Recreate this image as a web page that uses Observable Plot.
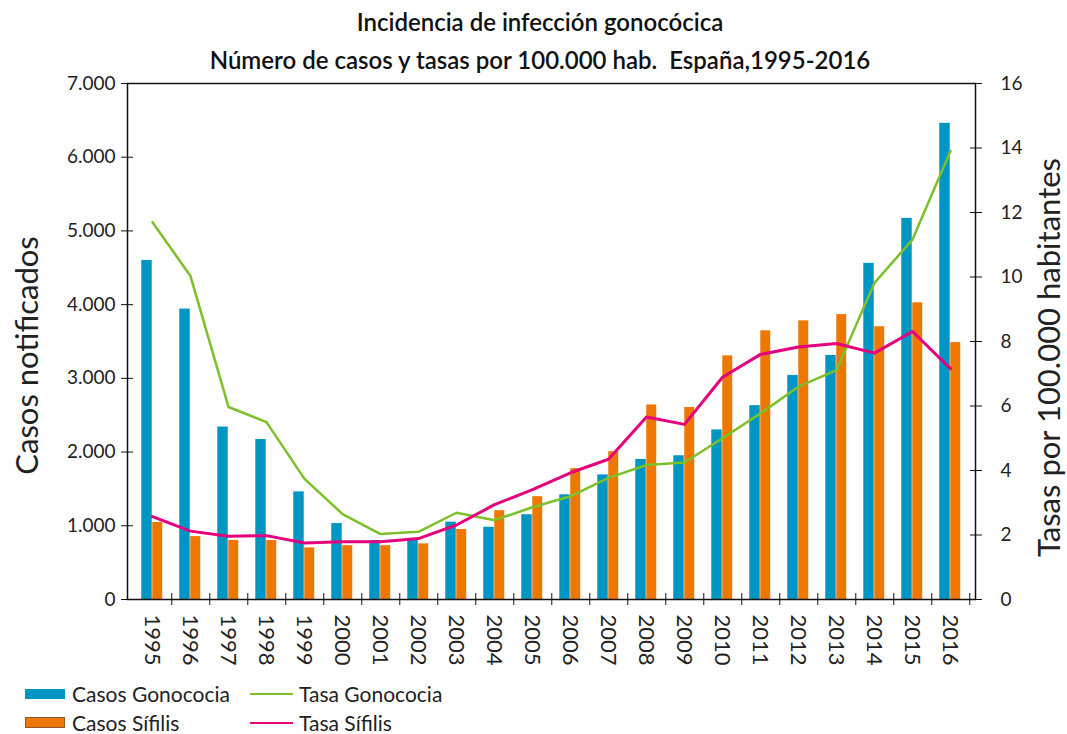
<!DOCTYPE html>
<html>
<head>
<meta charset="utf-8">
<script src="https://cdn.jsdelivr.net/npm/d3@7"></script>
<script src="https://cdn.jsdelivr.net/npm/@observablehq/plot@0.6"></script>
<style>
  html, body { margin: 0; padding: 0; background: #fff; }
  #wrap { position: relative; width: 1067px; height: 734px; font-family: Lato, "Open Sans", sans-serif; color: #222; }
  #title { position: absolute; left: 0; top: 3px; width: 1080px; text-align: center; font-size: 24px; font-weight: 600; line-height: 38px; color: #111; z-index: 2; }
  #chart { position: absolute; left: 0; top: 63px; z-index: 1; }
  .leg { position: absolute; font-size: 21px; color: #222; display: flex; align-items: center; }
  .sw { display: inline-block; width: 40px; height: 10px; margin-right: 7px; }
  .ln { display: inline-block; width: 43px; height: 2px; margin-right: 6px; }
</style>
</head>
<body>
<div id="wrap">
  <div id="title">Incidencia de infección gonocócica<br>Número de casos y tasas por 100.000 hab.&nbsp; España,1995-2016</div>
  <div id="chart"></div>
  <div class="leg" style="left:25px;top:681px;"><span class="sw" style="background:#0096C4;"></span>Casos Gonococia</div>
  <div class="leg" style="left:25px;top:710px;"><span class="sw" style="background:#EE7700;border:1px solid #8a5a2a;width:38px;height:9px;"></span>Casos Sífilis</div>
  <div class="leg" style="left:250px;top:681px;"><span class="ln" style="background:#7CC02A;"></span>Tasa Gonococia</div>
  <div class="leg" style="left:250px;top:710px;"><span class="ln" style="background:#E5007E;"></span>Tasa Sífilis</div>
</div>
<script>
const years = d3.range(1995, 2017);
const casosGonococia = [4600, 3940, 2340, 2170, 1460, 1030, 800, 810, 1050, 980, 1150, 1420, 1690, 1900, 1950, 2300, 2630, 3040, 3310, 4560, 5170, 6460];
const casosSifilis = [1045, 853, 800, 800, 700, 730, 730, 755, 950, 1205, 1395, 1775, 2005, 2640, 2605, 3305, 3645, 3780, 3865, 3700, 4025, 3485];
const tasaGonococia = [11.7, 10.03, 5.97, 5.5, 3.74, 2.65, 2.03, 2.1, 2.69, 2.46, 2.86, 3.2, 3.77, 4.17, 4.25, 5.0, 5.77, 6.6, 7.11, 9.82, 11.16, 13.91];
const tasaSifilis = [2.57, 2.12, 1.96, 1.98, 1.75, 1.79, 1.79, 1.89, 2.31, 2.94, 3.41, 3.93, 4.35, 5.66, 5.43, 6.89, 7.6, 7.83, 7.94, 7.64, 8.31, 7.16];
const leftTicks = [0, 1000, 2000, 3000, 4000, 5000, 6000, 7000];
const rightTicks = [0, 2, 4, 6, 8, 10, 12, 14, 16];

const casosMax = 7000, tasaMax = 16;
const toLeft = v => v * casosMax / tasaMax;
const es = d3.formatLocale({decimal: ",", thousands: ".", grouping: [3], currency: ["", " €"]});
const fmt = es.format(",");

const rows = years.map((y, i) => ({
  year: String(y),
  gono: casosGonococia[i],
  sif: casosSifilis[i],
  tg: toLeft(tasaGonococia[i]),
  ts: toLeft(tasaSifilis[i])
}));

const W = 1067, mL = 127, mR = 92;
const bw = (W - mL - mR) / years.length;

const chart = Plot.plot({
  width: W,
  height: 617,
  marginTop: 20,
  marginBottom: 81,
  marginLeft: mL,
  marginRight: mR,
  style: {fontFamily: "Lato, 'Open Sans', sans-serif", color: "#222", background: "transparent", overflow: "visible"},
  x: {type: "band", domain: years.map(String), padding: 0, axis: null},
  y: {domain: [0, casosMax], axis: null},
  marks: [
    Plot.barY(rows, {x: "year", y: "gono", fill: "#0096C4", insetLeft: bw / 2 - 11, insetRight: bw / 2}),
    Plot.barY(rows, {x: "year", y: "sif", fill: "#EE7700", insetLeft: bw / 2, insetRight: bw / 2 - 10.5}),
    Plot.line(rows, {x: "year", y: "tg", stroke: "#7CC02A", strokeWidth: 2.5}),
    Plot.line(rows, {x: "year", y: "ts", stroke: "#E5007E", strokeWidth: 3}),
    Plot.frame({stroke: "#111", strokeWidth: 1.5}),
    Plot.axisY(leftTicks, {anchor: "left", tickSize: 12, dx: 6, tickPadding: 6, tickFormat: fmt, fontSize: 19, label: null, stroke: "#111"}),
    Plot.axisY(rightTicks.map(toLeft), {anchor: "right", tickSize: 12, dx: -6, tickPadding: 19, tickFormat: d => String(Math.round(d * tasaMax / casosMax)), fontSize: 19, label: null, stroke: "#111"}),
    Plot.axisX(years.map(String), {anchor: "bottom", tickSize: 12, dy: -6, dx: bw / 2, tickFormat: () => "", label: null, stroke: "#111"}),
    Plot.axisX(years.map(String), {anchor: "bottom", tickSize: 0, tickPadding: 15, tickRotate: 90, fontSize: 22, label: null}),
    Plot.text(["Casos notificados"], {text: d => d, frameAnchor: "left", textAnchor: "middle", rotate: -90, dx: -99, dy: 14, fontSize: 31, fill: "#222"}),
    Plot.text(["Tasas por 100.000 habitantes"], {text: d => d, frameAnchor: "right", textAnchor: "middle", rotate: -90, dx: 75, dy: 16, fontSize: 31, fill: "#222"})
  ]
});
document.getElementById("chart").appendChild(chart);
</script>
</body>
</html>
